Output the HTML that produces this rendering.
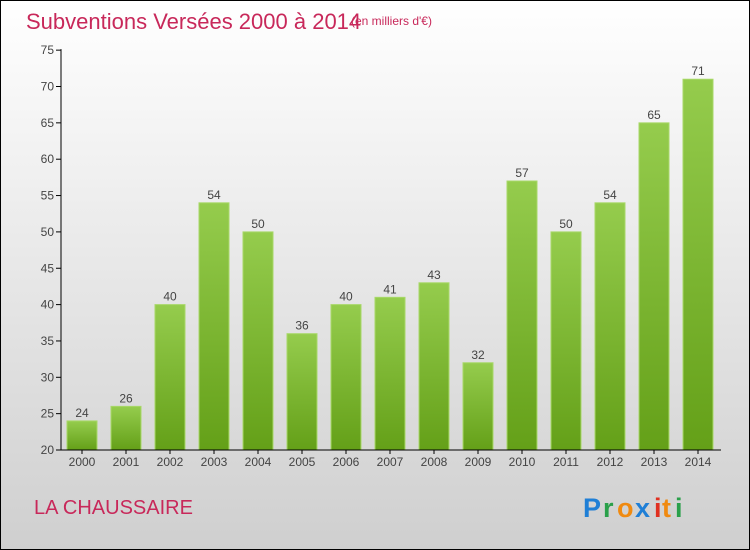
<!DOCTYPE html>
<html><head><meta charset="utf-8"><style>
body{margin:0}
#c{width:750px;height:550px;position:relative;overflow:hidden}
</style></head><body>
<div id="c">
<svg width="750" height="550" xmlns="http://www.w3.org/2000/svg">
<defs>
<linearGradient id="bg" x1="0" y1="0" x2="0" y2="1"><stop offset="0" stop-color="#ffffff"/><stop offset="1" stop-color="#cfcfcf"/></linearGradient>
<linearGradient id="bar" x1="0" y1="0" x2="0" y2="1"><stop offset="0" stop-color="#95cc4d"/><stop offset="1" stop-color="#64a018"/></linearGradient>
</defs>
<rect x="0.5" y="0.5" width="749" height="549" fill="url(#bg)" stroke="#000"/>
<text x="26" y="29" font-family="Liberation Sans, sans-serif" font-size="22" fill="#c8285a">Subventions Versées 2000 à 2014</text>
<text x="351" y="25" font-family="Liberation Sans, sans-serif" font-size="12" fill="#c8285a">(en milliers d'€)</text>
<g id="plot"></g>
<text x="34" y="514" font-family="Liberation Sans, sans-serif" font-size="20" fill="#c8285a">LA CHAUSSAIRE</text>
<g font-family="Liberation Sans, sans-serif" font-size="27" font-weight="bold">
<text x="583" y="517" fill="#1f7fd6">P</text><text x="603" y="517" fill="#2aa04a">r</text><text x="617" y="517" fill="#f08a10">o</text><text x="635" y="517" fill="#1f7fd6">x</text><text x="654" y="517" fill="#e03020">i</text><text x="662" y="517" fill="#f08a10">t</text><text x="675" y="517" fill="#2aa04a">i</text>
</g>
</svg>
</div>
<script>
const years=["2000","2001","2002","2003","2004","2005","2006","2007","2008","2009","2010","2011","2012","2013","2014"];
const values=[24,26,40,54,50,36,40,41,43,32,57,50,54,65,71];
const yTicks=[20,25,30,35,40,45,50,55,60,65,70,75];
const NS="http://www.w3.org/2000/svg";
const g=document.getElementById('plot');
const y0=450,ppu=7.27,vmin=20,x0=82,step=44,bw=30;
const Y=v=>y0-(v-vmin)*ppu;
const X=i=>x0+i*step;
function mk(t,a){const e=document.createElementNS(NS,t);for(const k in a)e.setAttribute(k,a[k]);g.appendChild(e);return e;}
yTicks.forEach(v=>{
 const t=mk('line',{x1:56,x2:61,y1:Y(v),y2:Y(v),stroke:'#000'});
 
 
 const l=mk('text',{x:54,y:Y(v)+4,'text-anchor':'end','font-family':'Liberation Sans, sans-serif','font-size':'12',fill:'#444'});
 l.textContent=v;
 
 
});
values.forEach((v,i)=>{
 const r=mk('rect',{x:X(i)-bw/2,y:Y(v),width:bw,height:y0-Y(v),fill:'url(#bar)',stroke:'#a8d868','stroke-width':'1'});
 
 
 const l=mk('text',{x:X(i),y:Y(v)-4,'text-anchor':'middle','font-family':'Liberation Sans, sans-serif','font-size':'12',fill:'#444'});
 l.textContent=v;
 
 
 const k=mk('line',{x1:X(i),x2:X(i),y1:y0,y2:y0+4,stroke:'#000'});
 
 
 const xl=mk('text',{x:X(i),y:y0+16,'text-anchor':'middle','font-family':'Liberation Sans, sans-serif','font-size':'12',fill:'#444'});
 xl.textContent=years[i];
 
 
});
const ya=mk('line',{x1:61,x2:61,y1:Y(75)-1,y2:y0,stroke:'#000'});


const xa=mk('line',{x1:61,x2:721,y1:y0,y2:y0,stroke:'#000'});


</script>
</body></html>
